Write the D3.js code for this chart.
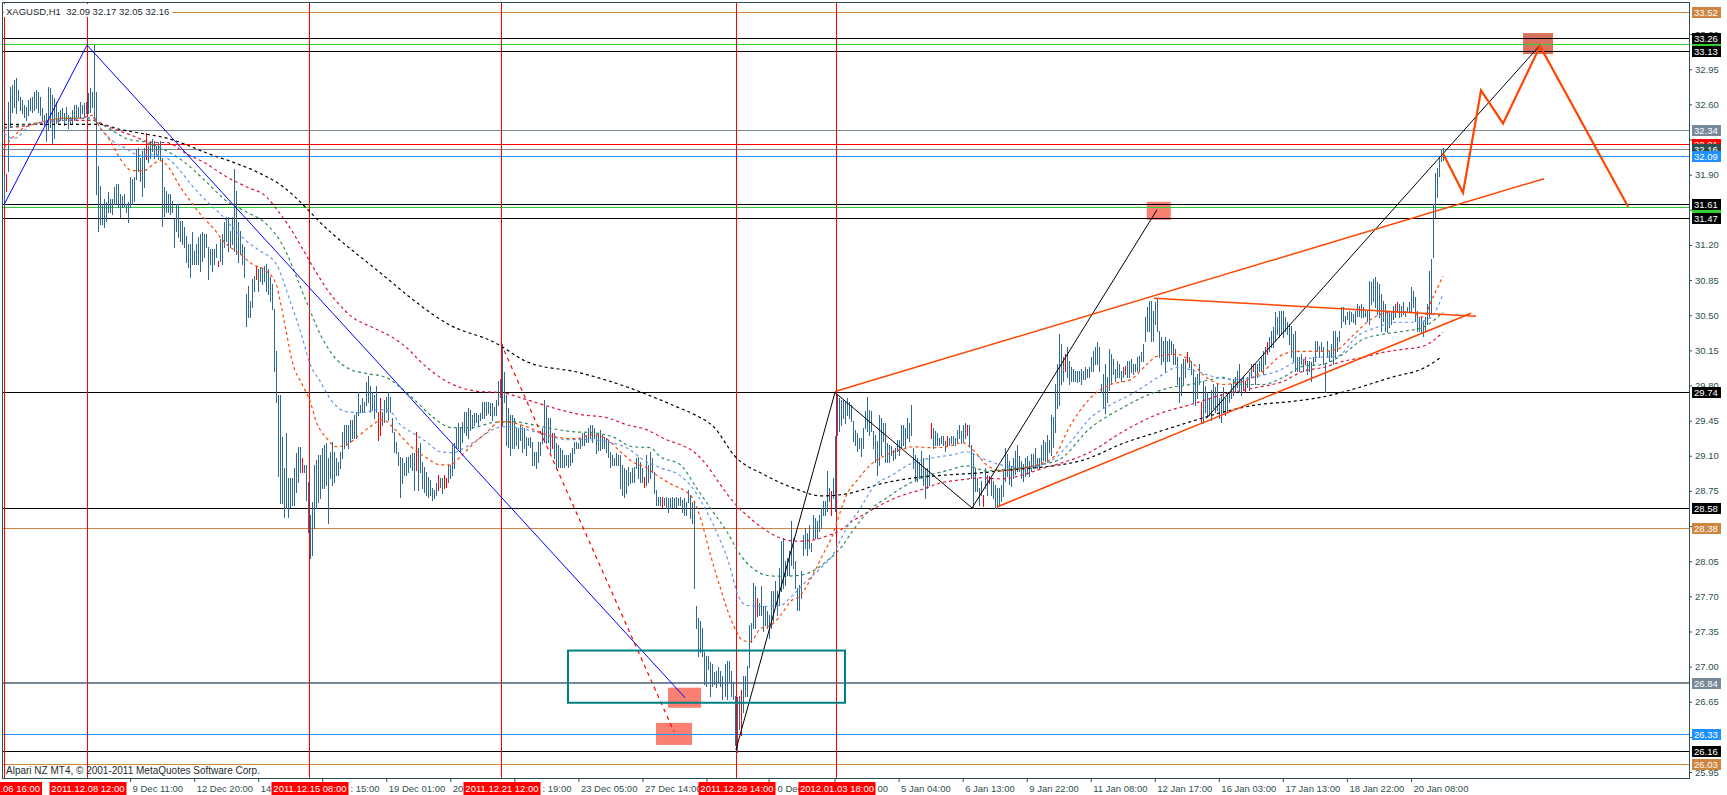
<!DOCTYPE html>
<html><head><meta charset="utf-8">
<script src="https://cdn.jsdelivr.net/npm/d3@7"></script>
<style>html,body{margin:0;padding:0;background:#fff;overflow:hidden}</style>
</head><body>
<svg id="c" width="1727" height="795"></svg>
<script>
// ---------- DATA ----------
const symbolTitle = "XAGUSD,H1  32.09 32.17 32.05 32.16";
const footerText = "Alpari NZ MT4, \u00A9 2001-2011 MetaQuotes Software Corp.";

const barHigh = [
31.91,31.91,32.62,32.77,32.79,32.84,32.86,32.74,32.67,32.64,
32.59,32.57,32.64,32.66,32.67,32.72,32.74,32.72,32.67,32.56,
32.49,32.51,32.77,32.76,32.69,32.66,32.62,32.52,32.54,32.56,
32.51,32.57,32.49,32.47,32.54,32.59,32.59,32.57,32.62,32.59,
32.61,32.62,32.71,32.76,32.72,33.19,32.72,31.99,31.79,31.61,
31.66,31.63,31.73,31.66,31.66,31.78,31.81,31.81,31.71,31.69,
31.71,31.61,31.63,31.88,31.86,31.88,32.16,32.17,32.07,32.14,
32.17,32.31,32.19,32.24,32.26,32.24,32.19,32.22,32.24,32.07,
31.78,31.74,31.71,31.71,31.64,31.46,31.61,31.61,31.44,31.44,
31.38,31.29,31.21,31.21,31.33,31.14,31.21,31.28,31.31,31.33,
31.31,31.31,31.18,31.16,31.16,31.16,31.21,31.04,31.26,31.31,
31.43,31.48,31.48,31.34,31.48,31.96,31.74,31.43,31.34,31.21,
31.18,30.71,30.79,30.64,30.86,30.89,30.99,30.96,30.98,30.96,
30.99,31.01,30.96,30.88,30.81,30.56,30.14,29.71,29.71,29.29,
28.98,29.33,28.88,28.88,28.88,28.98,29.13,29.19,29.19,29.08,
29.01,29.01,28.84,28.51,28.64,29.01,29.06,29.11,29.11,29.18,
29.21,29.23,29.08,29.14,29.24,29.14,29.08,29.04,29.14,29.34,
29.41,29.41,29.41,29.46,29.46,29.51,29.54,29.74,29.61,29.68,
29.64,29.83,29.89,29.79,29.74,29.71,29.79,29.54,29.68,29.54,
29.66,29.69,29.74,29.69,29.48,29.34,29.24,29.14,29.09,29.08,
29.03,29.09,29.09,29.11,29.13,29.13,29.34,29.18,29.23,29.04,
28.99,28.94,28.89,28.86,28.78,28.76,28.83,28.91,28.88,28.88,
28.91,28.88,29.01,29.01,29.21,29.23,29.38,29.43,29.38,29.44,
29.54,29.54,29.58,29.56,29.51,29.53,29.53,29.51,29.53,29.64,
29.64,29.64,29.64,29.63,29.63,29.59,29.66,29.84,29.86,30.21,
29.93,29.71,29.58,29.51,29.51,29.48,29.38,29.38,29.41,29.39,
29.38,29.29,29.28,29.29,29.24,29.14,29.14,29.24,29.24,29.38,
29.66,29.59,29.48,29.48,29.33,29.33,29.23,29.21,29.18,29.16,
29.11,29.11,29.11,29.13,29.18,29.24,29.24,29.23,29.28,29.33,
29.33,29.31,29.38,29.41,29.41,29.38,29.31,29.33,29.36,29.31,
29.29,29.28,29.26,29.14,29.11,29.08,29.13,29.11,29.11,29.01,
28.98,28.96,28.99,28.94,28.98,28.99,29.08,29.09,29.04,28.98,
28.89,29.11,29.01,29.14,29.08,28.94,28.76,28.69,28.69,28.69,
28.68,28.69,28.68,28.68,28.69,28.68,28.69,28.68,28.69,28.66,
28.68,28.64,28.76,28.71,28.64,28.64,27.60,27.48,27.45,27.38,
27.15,27.11,27.11,27.05,27.03,26.95,26.96,27.00,26.96,26.91,
27.03,27.06,27.06,26.96,26.85,26.71,26.70,26.71,26.77,26.91,
26.91,27.01,27.41,27.43,27.83,27.80,27.68,27.63,27.80,27.60,
27.60,27.55,27.51,27.75,27.75,27.85,27.75,27.98,28.25,28.28,
28.05,28.08,28.15,28.45,28.28,28.05,27.78,27.81,27.95,28.31,
28.38,28.33,28.41,28.23,28.51,28.48,28.45,28.51,28.58,28.65,
28.65,28.95,28.78,28.75,28.88,29.30,29.71,29.68,29.66,29.66,
29.64,29.68,29.64,29.61,29.45,29.36,29.33,29.28,29.28,29.38,
29.55,29.69,29.56,29.55,29.35,29.31,29.25,29.51,29.48,29.43,
29.43,29.23,29.21,29.20,29.16,29.18,29.26,29.26,29.41,29.41,
29.38,29.48,29.43,29.61,29.18,29.11,29.08,29.04,29.15,29.08,
28.98,28.98,29.11,29.43,29.38,29.35,29.33,29.28,29.30,29.30,
29.25,29.30,29.28,29.30,29.30,29.28,29.36,29.41,29.35,29.41,
29.43,29.41,29.41,29.21,29.13,28.98,28.88,28.78,28.85,28.71,
28.98,28.91,28.90,28.88,28.85,28.81,28.78,28.78,28.81,28.95,
29.18,29.12,29.05,29.00,29.08,29.15,29.21,29.10,29.05,29.02,
29.08,29.10,29.05,29.12,29.12,29.18,29.08,29.08,29.21,29.26,
29.24,29.31,29.26,29.51,29.49,29.81,30.01,30.31,30.21,30.08,
30.11,30.18,30.04,29.98,29.96,29.94,29.94,29.94,29.96,29.94,
29.98,29.96,29.98,30.08,30.14,30.18,30.23,30.18,29.81,29.91,
30.01,29.88,30.16,30.11,30.06,29.96,30.04,30.01,29.94,29.98,
29.99,30.04,30.04,30.06,30.01,30.01,30.08,30.09,30.13,30.21,
30.48,30.58,30.64,30.64,30.54,30.63,30.66,30.34,30.28,30.24,
30.28,30.24,30.26,30.24,30.21,30.16,30.08,29.88,30.01,30.06,
30.06,30.13,30.08,30.04,29.96,29.88,29.91,30.01,29.64,29.84,
29.79,29.74,29.68,29.76,29.81,29.78,29.81,29.68,29.71,29.78,
29.68,29.74,29.74,29.81,29.86,29.88,29.94,30.01,29.86,29.88,
29.84,29.88,29.93,30.01,30.01,30.01,30.01,30.04,30.08,30.14,
30.18,30.23,30.28,30.34,30.38,30.53,30.48,30.54,30.54,30.54,
30.48,30.43,30.41,30.39,30.31,30.34,30.08,30.08,30.11,30.06,
30.08,30.04,30.04,30.03,30.08,30.24,30.24,30.19,30.23,30.18,
30.01,30.24,30.14,30.21,30.34,30.34,30.28,30.34,30.58,30.58,
30.49,30.53,30.54,30.53,30.51,30.54,30.61,30.59,30.61,30.58,
30.54,30.54,30.84,30.83,30.86,30.88,30.83,30.81,30.71,30.64,
30.61,30.54,30.53,30.54,30.59,30.61,30.63,30.61,30.59,30.63,
30.54,30.58,30.63,30.78,30.74,30.68,30.54,30.48,30.48,30.44,
30.48,30.61,30.94,31.06,31.61,31.92,31.97,32.09,32.16,32.17
];
const barLow = [
31.59,31.74,31.94,32.37,32.52,32.57,32.51,32.64,32.54,32.51,
32.47,32.44,32.49,32.54,32.52,32.54,32.56,32.52,32.49,32.44,
32.39,32.24,32.34,32.37,32.21,32.27,32.41,32.41,32.44,32.44,
32.39,32.44,32.36,32.41,32.41,32.44,32.44,32.47,32.47,32.51,
32.47,32.51,32.51,32.52,32.57,32.44,31.71,31.34,31.41,31.41,
31.38,31.44,31.53,31.53,31.51,31.61,31.61,31.58,31.48,31.58,
31.59,31.53,31.43,31.58,31.61,31.64,31.86,31.94,31.84,31.69,
31.78,32.06,32.03,32.07,32.14,32.07,32.09,32.06,32.06,31.39,
31.49,31.53,31.53,31.51,31.53,31.18,31.34,31.28,31.24,31.21,
31.18,31.03,30.98,30.88,31.01,31.01,31.01,31.01,30.94,31.04,
31.08,31.18,30.86,31.01,30.94,31.01,31.08,30.99,31.04,31.01,
31.18,31.24,31.14,31.18,31.21,31.14,31.11,31.03,31.11,31.01,
30.88,30.39,30.48,30.48,30.58,30.74,30.86,30.74,30.84,30.81,
30.84,30.74,30.71,30.64,30.56,29.94,29.64,28.90,28.63,28.63,
28.49,28.58,28.49,28.59,28.61,28.61,28.74,28.84,28.94,28.94,
28.94,28.66,28.34,28.08,28.11,28.38,28.58,28.64,28.68,28.78,
28.78,28.81,28.43,28.88,28.81,28.84,28.91,28.91,28.98,29.08,
29.18,29.21,29.18,29.24,29.28,29.28,29.28,29.51,29.54,29.54,
29.54,29.61,29.64,29.54,29.56,29.48,29.54,29.26,29.31,29.41,
29.44,29.54,29.46,29.54,29.34,29.14,29.13,29.01,28.69,28.83,
28.91,28.91,28.94,28.99,28.96,28.76,28.96,28.76,28.94,28.78,
28.74,28.71,28.69,28.71,28.66,28.68,28.71,28.76,28.79,28.73,
28.78,28.79,28.84,28.88,28.91,28.98,29.18,29.18,29.14,29.24,
29.34,29.31,29.28,29.36,29.38,29.41,29.44,29.41,29.46,29.48,
29.48,29.51,29.53,29.51,29.46,29.51,29.51,29.61,29.69,29.41,
29.64,29.21,29.19,29.11,29.18,29.18,29.21,29.18,29.26,29.14,
29.18,29.11,29.21,29.19,29.01,29.01,28.98,29.04,29.11,29.23,
29.24,29.23,29.24,29.14,29.18,29.08,28.98,28.99,28.99,28.99,
28.99,29.01,28.99,29.01,29.04,29.13,29.18,29.18,29.18,29.21,
29.21,29.24,29.24,29.28,29.24,29.28,29.13,29.16,29.16,29.18,
29.18,29.14,29.09,28.99,29.01,29.01,29.01,29.01,28.78,28.71,
28.69,28.73,28.81,28.83,28.84,28.84,28.98,28.88,28.84,28.84,
28.79,28.81,28.84,28.88,28.94,28.73,28.61,28.61,28.61,28.59,
28.61,28.58,28.54,28.58,28.59,28.58,28.59,28.61,28.61,28.54,
28.51,28.51,28.64,28.48,28.43,27.78,27.38,27.11,27.15,27.11,
26.83,26.81,26.98,26.71,26.81,26.83,26.80,26.85,26.81,26.68,
26.71,26.68,26.85,26.71,26.68,26.22,26.15,26.38,26.32,26.55,
26.71,26.71,27.00,27.25,27.38,27.38,27.50,27.51,27.51,27.35,
27.41,27.38,27.28,27.38,27.45,27.61,27.51,27.61,27.75,27.78,
27.81,27.91,27.91,28.01,27.98,27.78,27.56,27.56,27.68,28.11,
28.18,28.11,28.18,28.15,28.28,28.28,28.28,28.35,28.38,28.51,
28.51,28.55,28.65,28.51,28.68,28.55,29.31,29.35,29.41,29.48,
29.43,29.51,29.48,29.45,29.25,29.21,29.15,29.18,29.10,29.18,
29.38,29.35,29.31,29.35,29.18,29.04,28.91,29.01,29.11,29.25,
29.04,29.04,29.04,29.11,29.06,29.08,29.15,29.11,29.18,29.21,
29.18,29.28,29.25,29.31,28.98,28.85,28.85,28.88,28.88,28.81,
28.68,28.78,28.81,29.28,29.18,29.21,29.21,29.21,29.23,29.21,
29.15,29.21,29.21,29.23,29.21,29.21,29.23,29.28,29.23,29.25,
29.28,29.31,29.21,28.88,28.58,28.75,28.75,28.61,28.71,28.60,
28.78,28.71,28.83,28.71,28.68,28.58,28.58,28.61,28.65,28.70,
28.85,28.90,28.82,28.80,28.88,28.92,28.95,28.95,28.88,28.85,
28.90,28.92,28.90,28.95,28.98,29.00,28.98,28.98,29.02,29.06,
29.05,29.05,29.14,29.11,29.19,29.34,29.58,29.61,29.81,29.84,
29.94,29.88,29.81,29.84,29.84,29.84,29.83,29.84,29.81,29.86,
29.86,29.88,29.88,29.94,29.94,30.01,30.01,29.94,29.74,29.58,
29.53,29.64,29.76,29.81,29.91,29.84,29.88,29.88,29.84,29.88,
29.91,29.88,29.88,29.93,29.91,29.94,29.94,29.94,30.04,30.04,
30.24,30.34,30.34,30.24,30.24,30.41,30.34,30.08,30.01,30.04,
29.94,30.04,30.04,30.11,30.01,30.01,29.81,29.64,29.71,29.81,
29.88,30.03,29.98,29.91,29.64,29.61,29.68,29.81,29.44,29.43,
29.54,29.51,29.51,29.46,29.58,29.54,29.56,29.48,29.44,29.54,
29.51,29.54,29.64,29.68,29.71,29.74,29.78,29.74,29.71,29.76,
29.74,29.78,29.76,29.88,29.94,29.81,29.88,29.94,29.94,29.91,
30.01,30.11,30.14,30.18,30.18,30.24,30.31,30.28,30.31,30.28,
30.34,30.31,30.21,30.08,30.04,29.94,29.94,29.94,30.01,29.94,
30.01,29.91,29.94,29.84,30.01,30.04,30.14,30.08,30.14,30.01,
29.74,30.08,30.04,30.08,30.01,30.08,30.14,30.24,30.38,30.44,
30.41,30.46,30.41,30.44,30.43,30.41,30.49,30.49,30.48,30.48,
30.49,30.44,30.41,30.61,30.64,30.58,30.51,30.48,30.34,30.44,
30.34,30.33,30.38,30.41,30.46,30.48,30.53,30.48,30.49,30.51,
30.49,30.53,30.53,30.54,30.58,30.44,30.34,30.34,30.33,30.29,
30.34,30.41,30.48,30.51,31.08,31.48,31.68,31.89,32.04,32.05
];
const redBars = [1,71,107,126,149,187,188,206,217,220,221,274,320,329,368,376,413,463,471,481,489,492,530,560,591,598,620,624,631,650,696];

// moving averages: [bar index, price]
const maFast = [[0,32.17],[8,32.34],[18,32.42],[28,32.46],[38,32.46],[44,32.49],[48,32.37],[53,32.24],[58,32.06],[64,31.94],[70,31.94],[75,32.01],[78,32.04],[82,31.98],[88,31.78],[93,31.64],[98,31.51],[104,31.38],[111,31.21],[118,31.11],[124,31.01],[131,30.94],[136,30.81],[138,30.64],[141,30.34],[144,30.04],[149,29.81],[153,29.64],[156,29.44],[161,29.28],[166,29.19],[171,29.21],[176,29.28],[183,29.39],[189,29.46],[194,29.39],[199,29.28],[204,29.18],[211,29.08],[218,29.01],[223,29.01],[228,29.09],[234,29.21],[241,29.33],[248,29.44],[254,29.43],[261,29.39],[271,29.31],[278,29.28],[286,29.27],[294,29.31],[301,29.27],[308,29.14],[314,29.04],[321,28.98],[328,28.88],[334,28.81],[341,28.74],[344,28.68],[348,28.48],[353,28.11],[358,27.78],[363,27.48],[366,27.35],[369,27.26],[373,27.25],[378,27.38],[383,27.41],[388,27.51],[393,27.65],[398,27.71],[404,27.91],[409,28.11],[414,28.31],[418,28.55],[421,28.71],[426,28.85],[433,29.01],[441,29.11],[448,29.16],[454,29.19],[464,29.18],[471,29.19],[479,29.23],[484,29.16],[491,29.01],[498,28.95],[510,28.98],[524,29.08],[533,29.41],[543,29.68],[553,29.81],[563,29.86],[571,30.01],[576,30.09],[586,30.11],[593,30.04],[599,29.91],[609,29.81],[619,29.84],[629,29.94],[639,30.11],[646,30.14],[656,30.14],[666,30.16],[673,30.28],[683,30.46],[693,30.53],[703,30.53],[709,30.48],[714,30.68],[719,30.89]];
const maMid = [[0,32.31],[5,32.26],[14,32.40],[31,32.44],[44,32.47],[49,32.34],[54,32.24],[61,32.16],[68,32.09],[74,32.10],[81,32.07],[88,31.94],[94,31.79],[101,31.64],[108,31.51],[114,31.38],[121,31.24],[128,31.14],[136,31.01],[143,30.64],[149,30.28],[153,30.01],[158,29.84],[164,29.64],[171,29.54],[178,29.53],[188,29.56],[193,29.54],[198,29.41],[204,29.33],[211,29.24],[218,29.14],[224,29.13],[231,29.19],[238,29.28],[244,29.36],[251,29.39],[261,29.36],[271,29.31],[281,29.26],[291,29.26],[301,29.24],[311,29.18],[321,29.04],[328,28.98],[338,28.90],[344,28.78],[351,28.55],[358,28.25],[363,27.98],[366,27.75],[371,27.61],[379,27.60],[388,27.61],[394,27.71],[401,27.85],[408,27.98],[414,28.11],[421,28.38],[428,28.58],[434,28.78],[444,28.91],[454,29.03],[464,29.08],[474,29.11],[481,29.14],[488,29.08],[498,29.01],[510,28.98],[524,29.06],[533,29.24],[543,29.48],[553,29.61],[563,29.71],[571,29.81],[579,29.91],[586,29.98],[596,29.94],[606,29.88],[616,29.86],[626,29.89],[636,29.94],[646,30.04],[656,30.08],[666,30.09],[676,30.29],[686,30.38],[696,30.43],[706,30.43],[713,30.48],[719,30.71]];
const maSlow = [[0,32.36],[8,32.39],[18,32.42],[31,32.46],[41,32.46],[48,32.41],[54,32.34],[61,32.26],[71,32.22],[81,32.14],[91,32.01],[101,31.83],[111,31.64],[121,31.53],[131,31.41],[138,31.24],[151,30.64],[158,30.31],[164,30.11],[173,29.96],[181,29.92],[191,29.88],[198,29.78],[206,29.64],[214,29.49],[224,29.38],[234,29.38],[244,29.43],[254,29.44],[264,29.41],[274,29.37],[284,29.34],[294,29.33],[304,29.29],[314,29.19],[323,29.18],[328,29.09],[338,29.01],[346,28.78],[354,28.55],[361,28.35],[368,28.11],[374,27.98],[381,27.91],[388,27.90],[398,27.91],[404,27.95],[411,28.05],[418,28.18],[424,28.35],[431,28.53],[441,28.68],[451,28.81],[461,28.90],[471,28.95],[481,29.00],[491,28.95],[498,28.96],[526,29.05],[543,29.38],[559,29.58],[576,29.74],[583,29.78],[593,29.81],[603,29.86],[609,29.88],[619,29.81],[629,29.81],[639,29.88],[649,29.99],[659,30.01],[669,30.11],[679,30.26],[689,30.31],[699,30.34],[709,30.38],[719,30.53]];
const maSlower = [[0,32.37],[8,32.38],[18,32.41],[31,32.44],[44,32.44],[53,32.37],[64,32.29],[74,32.22],[81,32.22],[91,32.11],[101,32.01],[111,31.88],[121,31.78],[131,31.68],[138,31.51],[166,30.64],[174,30.48],[184,30.38],[194,30.28],[201,30.18],[208,30.04],[218,29.88],[228,29.78],[238,29.74],[248,29.73],[261,29.66],[274,29.58],[288,29.51],[301,29.48],[311,29.41],[321,29.36],[331,29.26],[338,29.21],[344,29.15],[351,29.01],[358,28.81],[364,28.65],[371,28.51],[379,28.38],[388,28.28],[396,28.25],[404,28.26],[411,28.30],[418,28.36],[424,28.45],[431,28.53],[438,28.61],[448,28.70],[458,28.76],[468,28.83],[478,28.86],[488,28.88],[498,28.87],[520,28.98],[543,29.14],[559,29.34],[576,29.51],[593,29.61],[609,29.71],[626,29.78],[639,29.84],[649,29.94],[659,29.98],[669,30.04],[679,30.08],[689,30.13],[699,30.16],[709,30.19],[719,30.33]];
const maLong = [[0,32.40],[48,32.40],[58,32.35],[72,32.30],[82,32.26],[92,32.19],[102,32.11],[115,32.02],[125,31.94],[138,31.80],[163,31.33],[190,30.89],[204,30.66],[222,30.41],[245,30.23],[262,30.03],[287,29.93],[312,29.78],[337,29.58],[345,29.51],[355,29.38],[365,29.10],[380,28.91],[397,28.76],[408,28.70],[421,28.72],[438,28.82],[455,28.88],[472,28.91],[488,28.93],[498,28.95],[538,29.05],[560,29.23],[577,29.34],[593,29.44],[610,29.54],[627,29.61],[643,29.64],[660,29.69],[677,29.78],[693,29.88],[710,29.98],[718,30.08]];

// horizontal price levels
const levelValues = [33.52,33.26,33.20,33.13,32.34,32.21,32.16,32.09,31.61,31.58,31.47,29.74,28.58,28.38,26.84,26.33,26.16,26.03];
const levelKinds  = ["peru","black","green","black","slate","red","bid","blue","black","green","black","black","black","peru","slateThick","blue","black","peru"];

// vertical lines (bar index), their labels, and the visible tail of the time label they cover
const vLineIdx  = [0,41.5,152.5,248.5,365.5,415.5];
const vLineText = [".06 16:00","2011.12.08 12:00","2011.12.15 08:00","2011.12.21 12:00","2011.12.29 14:00","2012.01.03 18:00"];
const vLineTail = ["","",": 15:00",": 19:00","0 Dec","00"];

// time axis (labels partly hidden by the red boxes keep only their visible part)
const timeTickIdx  = [63,95,127,159,191,223,255,287,319,351,382,415,447,479,511,543,575,607,639,671,703];
const timeTickText = ["9 Dec 11:00","12 Dec 20:00","14","","19 Dec 01:00","20","","23 Dec 05:00","27 Dec 14:00","","","","5 Jan 04:00","6 Jan 13:00","9 Jan 22:00","11 Jan 08:00","12 Jan 17:00","16 Jan 03:00","17 Jan 13:00","18 Jan 22:00","20 Jan 08:00"];
// price axis (ticks whose text sits fully under a level label show only the tick mark)
const priceTicks = [33.30,32.95,32.60,32.25,31.90,31.55,31.20,30.85,30.50,30.15,29.80,29.45,29.10,28.75,28.40,28.05,27.70,27.35,27.00,26.65,26.30,25.95];
const coveredPriceTicks = [32.25,31.55,28.40,26.30];

// drawn objects: [bar index, price]
const blueZigzag  = [[0,31.60],[41.5,33.19],[340.3,26.69]];
const redDashLine = [[248.3,30.22],[334.8,26.35]];
const blackZigzag = [[365.7,26.17],[415.2,29.73],[483.7,28.58],[576.1,31.55]];
const blackLong   = [[600.6,29.47],[767.5,33.19]];
const orangeUpper = [[415.2,29.74],[769.5,31.86]];
const orangeLower = [[496.1,28.59],[733,30.52]];
const orangeFlat  = [[574.6,30.67],[735.5,30.49]];
const orangePath  = [[719,32.11],[729,31.72],[738,32.74],[749,32.41],[767.5,33.18],[811.5,31.58]];
// rectangles: [idx0, idx1, priceTop, priceBottom]
const tealRect = [281.8,420.2,27.16,26.64];
const salmonRects = [[331.8,348.3,26.79,26.59],[325.8,343.8,26.44,26.22],[571,583,31.63,31.45],[759,774,33.31,33.10]];

// ---------- DRAW ----------
const W = 1727, H = 795;
const L = 3, R = 1689, T = 2, B = 778;
const FONT = "'Liberation Sans', Arial, sans-serif";
const C = {black:"#000000", green:"#32CD32", peru:"#CD853F", slate:"#778899", slateThick:"#778899", red:"#FF0000", bid:"#778899", blue:"#1E90FF"};
const labelBg = {black:"#000000", green:"#32CD32", peru:"#CD853F", slate:"#778899", slateThick:"#778899", red:"#FF0000", bid:"#2F4F4F", blue:"#1E90FF"};

const x = d3.scaleLinear().domain([0, 719]).range([4, 1443]);
const y = d3.scaleLinear().domain([26.03, 33.52]).range([764, 12]);
const px = v => Math.round(x(v)) + 0.5;
const py = v => Math.round(y(v)) + 0.5;

const svg = d3.select("#c");
svg.append("rect").attr("width", W).attr("height", H).attr("fill", "#fff");
svg.append("clipPath").attr("id", "pc").append("rect")
  .attr("x", L).attr("y", T).attr("width", R - L).attr("height", B - T);
const g = svg.append("g").attr("clip-path", "url(#pc)");

// salmon rectangles (background)
g.selectAll(".sal").data(salmonRects).join("rect")
  .attr("x", d => x(d[0])).attr("width", d => x(d[1]) - x(d[0]))
  .attr("y", d => y(d[2])).attr("height", d => y(d[3]) - y(d[2]))
  .attr("fill", (d, i) => i === 3 ? "#D9715F" : "#FA8072");

// horizontal levels
levelValues.forEach((v, i) => {
  const k = levelKinds[i];
  const thick = k === "slateThick";
  const yy = thick ? Math.round(y(v)) : py(v);
  g.append("line").attr("x1", L).attr("x2", R).attr("y1", yy).attr("y2", yy)
    .attr("stroke", C[k]).attr("stroke-width", thick ? 2 : 1).attr("shape-rendering", "crispEdges");
});

// vertical red lines
g.selectAll(".vl").data(vLineIdx).join("line")
  .attr("x1", d => px(d)).attr("x2", d => px(d)).attr("y1", T).attr("y2", B)
  .attr("stroke", "#FF0000").attr("stroke-width", 1).attr("shape-rendering", "crispEdges");

// price bars
const redSet = new Set(redBars);
g.append("g").selectAll("line").data(barHigh).join("line")
  .attr("x1", (d, i) => px(i)).attr("x2", (d, i) => px(i))
  .attr("y1", d => Math.round(y(d)))
  .attr("y2", (d, i) => Math.round(y(barLow[i])) + 1)
  .attr("stroke", (d, i) => redSet.has(i) ? "#FF0000" : "#306894")
  .attr("stroke-width", 1).attr("shape-rendering", "crispEdges");

// moving averages
const ma = d3.line().x(d => x(d[0])).y(d => y(d[1])).curve(d3.curveMonotoneX);
[[maLong, "#000000"], [maSlower, "#DC143C"], [maSlow, "#2E8B57"], [maMid, "#6495ED"], [maFast, "#FF4500"]]
  .forEach(([data, col]) => {
    g.append("path").attr("d", ma(data)).attr("fill", "none").attr("stroke", col)
      .attr("stroke-width", 1.2).attr("stroke-dasharray", "3,3");
  });

// trend objects
const ln = d3.line().x(d => x(d[0])).y(d => y(d[1]));
const addLine = (data, col, w, dash) => {
  const p = g.append("path").attr("d", ln(data)).attr("fill", "none").attr("stroke", col).attr("stroke-width", w);
  if (dash) p.attr("stroke-dasharray", dash);
};
addLine(blueZigzag, "#0000FF", 1);
addLine(redDashLine, "#FF0000", 1.2, "4,4");
addLine(blackZigzag, "#000000", 1);
addLine(blackLong, "#000000", 1);
addLine(orangeUpper, "#FF4500", 1.5);
addLine(orangeLower, "#FF4500", 1.5);
addLine(orangeFlat, "#FF4500", 1.5);
addLine(orangePath, "#FF4500", 2.2);

// teal rectangle
g.append("rect").attr("x", x(tealRect[0])).attr("width", x(tealRect[1]) - x(tealRect[0]))
  .attr("y", y(tealRect[2])).attr("height", y(tealRect[3]) - y(tealRect[2]))
  .attr("fill", "none").attr("stroke", "#008080").attr("stroke-width", 2);

// frame
const frame = "#2F4F4F";
svg.append("line").attr("x1", L).attr("x2", R + 1).attr("y1", T + 0.5).attr("y2", T + 0.5).attr("stroke", frame);
svg.append("line").attr("x1", L - 0.5).attr("x2", L - 0.5).attr("y1", T).attr("y2", B + 1).attr("stroke", frame);
svg.append("line").attr("x1", L).attr("x2", R + 1).attr("y1", B + 0.5).attr("y2", B + 0.5).attr("stroke", frame);
svg.append("line").attr("x1", R + 0.5).attr("x2", R + 0.5).attr("y1", T).attr("y2", B + 1).attr("stroke", frame);

// price axis
const covered = new Set(coveredPriceTicks.map(v => v.toFixed(2)));
const ay = svg.append("g").attr("transform", `translate(${R},0)`)
  .call(d3.axisRight(y).tickValues(priceTicks).tickSize(3).tickPadding(3)
    .tickFormat(v => covered.has(v.toFixed(2)) ? "" : v.toFixed(2)));
ay.select(".domain").remove();
ay.attr("font-family", FONT).attr("font-size", 9.5);
ay.selectAll("line").attr("stroke", frame);
ay.selectAll("text").attr("fill", frame);

// price labels of levels (green ones first and fully covered, others overlay)
const order = levelValues.map((v, i) => i).sort((a, b) => {
  const ga = levelKinds[a] === "green" ? 0 : 1, gb = levelKinds[b] === "green" ? 0 : 1;
  return ga - gb || levelValues[b] - levelValues[a];
});
order.forEach(i => {
  const v = levelValues[i], k = levelKinds[i];
  const yy = Math.round(y(v));
  svg.append("rect").attr("x", R + 3).attr("y", yy - 5).attr("width", 29).attr("height", 11).attr("fill", labelBg[k]);
  if (k !== "green") {
    svg.append("text").attr("x", R + 5).attr("y", yy + 4).text(v.toFixed(2))
      .attr("fill", "#fff").attr("font-family", FONT).attr("font-size", 9.5);
  }
});

// time axis
const ax = svg.append("g").attr("transform", `translate(0,${B})`)
  .call(d3.axisBottom(x).tickValues(timeTickIdx).tickSize(4).tickFormat((d, i) => timeTickText[i]));
ax.select(".domain").remove();
ax.attr("font-family", FONT).attr("font-size", 9.5);
ax.selectAll("line").attr("stroke", frame);
ax.selectAll("text").attr("fill", frame).attr("text-anchor", "start").attr("x", 2).attr("y", 13.5).attr("dy", 0);

// vertical line labels (red boxes) and visible tails of covered time labels
vLineIdx.forEach((d, i) => {
  const cx = px(d);
  if (i === 0) {
    svg.append("rect").attr("x", 0).attr("y", B + 4).attr("width", 42).attr("height", 13).attr("fill", "#FF0000");
    svg.append("text").attr("x", 40).attr("y", B + 14).attr("text-anchor", "end").text(vLineText[i])
      .attr("fill", "#fff").attr("font-family", FONT).attr("font-size", 9.5);
    return;
  }
  svg.append("rect").attr("x", cx - 38).attr("y", B + 4).attr("width", 77).attr("height", 13).attr("fill", "#FF0000");
  svg.append("text").attr("x", cx + 0.5).attr("y", B + 14).attr("text-anchor", "middle").text(vLineText[i])
    .attr("fill", "#fff").attr("font-family", FONT).attr("font-size", 9.5);
  if (vLineTail[i]) {
    svg.append("text").attr("x", cx + 41).attr("y", B + 13.5).text(vLineTail[i])
      .attr("fill", frame).attr("font-family", FONT).attr("font-size", 9.5);
  }
});

// title (with white backing) and footer
const titleBg = svg.append("rect").attr("x", 4).attr("y", 4).attr("height", 13).attr("fill", "#fff");
const title = svg.append("text").attr("x", 6).attr("y", 14.5).text(symbolTitle)
  .attr("fill", "#1B2A2A").attr("font-family", FONT).attr("font-size", 9.5)
  .style("white-space", "pre");
titleBg.attr("width", title.node().getComputedTextLength() + 5);
svg.append("text").attr("x", 6).attr("y", 773.5).text(footerText)
  .attr("fill", "#1B2A2A").attr("font-family", FONT).attr("font-size", 10);
</script>
</body></html>
